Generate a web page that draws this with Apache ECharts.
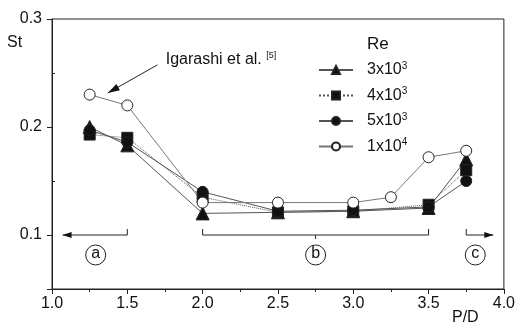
<!DOCTYPE html>
<html>
<head>
<meta charset="utf-8">
<script src="https://cdn.jsdelivr.net/npm/echarts@6/dist/echarts.min.js"></script>
<style>
  html, body { margin: 0; padding: 0; background: #fff; }
  #main { width: 518px; height: 322px; }
</style>
</head>
<body>
<div id="main"></div>
<script>
// P/D positions
const pd = [1.25, 1.5, 2.0, 2.5, 3.0, 3.5, 3.75];
const pdHigh = [1.25, 1.5, 2.0, 2.5, 3.0, 3.25, 3.5, 3.75];

// Strouhal numbers
const st3e3 = [0.200, 0.183, 0.120, 0.121, 0.122, 0.125, 0.170];
const st4e3 = [0.193, 0.190, 0.135, 0.121, 0.122, 0.128, 0.160];
const st5e3 = [0.197, 0.186, 0.140, 0.122, 0.123, 0.126, 0.150];
const st1e4 = [0.230, 0.220, 0.130, 0.130, 0.130, 0.135, 0.172, 0.178];

const seriesNames = ['3x10^3', '4x10^3', '5x10^3', '1x10^4'];
const reBase = ['3x10', '4x10', '5x10', '1x10'];
const reExp = ['3', '3', '3', '4'];

const yTicks = [0.05, 0.1, 0.2, 0.3];
const yLabels = [0.1, 0.2, 0.3];
const yMinorTicks = [0.15, 0.25];

const FONT = '"Liberation Sans", Arial, sans-serif';
const INK = '#111';
const LINE = '#555';

function pair(xs, ys) {
  return xs.map((x, i) => [x, ys[i]]);
}

const chart = echarts.init(document.getElementById('main'));

function lineSeries(name, data, symbol, size, type, lineColor, fill) {
  return {
    name: name,
    type: 'line',
    data: data,
    symbol: symbol,
    symbolSize: size,
    itemStyle: { color: fill || INK, borderColor: '#222', borderWidth: 1 },
    lineStyle: { color: lineColor, width: 1, type: type },
    animation: false
  };
}

chart.setOption({
  animation: false,
  textStyle: { fontFamily: FONT },
  grid: {
    left: 52, right: 12, top: 19, bottom: 33,
    show: true, borderColor: '#222', borderWidth: 1
  },
  xAxis: {
    type: 'value', min: 1, max: 4, interval: 0.5,
    axisLine: { lineStyle: { color: '#222', width: 1 } },
    axisTick: { length: 5, lineStyle: { color: '#222' } },
    minorTick: { show: true, splitNumber: 2, length: 3, lineStyle: { color: '#222' } },
    splitLine: { show: false },
    axisLabel: {
      color: INK, fontSize: 16, margin: 7,
      formatter: v => v.toFixed(1)
    }
  },
  yAxis: [{
    type: 'value', min: 0.05, max: 0.3, interval: 0.05,
    axisLine: { show: true, lineStyle: { color: '#222', width: 1 } },
    axisTick: { length: 5, customValues: yTicks, lineStyle: { color: '#222' } },
    splitLine: { show: false },
    axisLabel: {
      color: INK, fontSize: 16, margin: 10, customValues: yLabels,
      formatter: v => v.toFixed(1)
    }
  }, {
    type: 'value', min: 0.05, max: 0.3, interval: 0.05, position: 'left',
    axisLine: { show: false },
    axisTick: { show: true, inside: true, length: 3, customValues: yMinorTicks, lineStyle: { color: '#222' } },
    axisLabel: { show: false },
    splitLine: { show: false }
  }],
  legend: {
    orient: 'vertical', left: 313, top: 56,
    itemWidth: 34, itemHeight: 10, itemGap: 8.5,
    data: seriesNames,
    formatter: name => {
      const i = seriesNames.indexOf(name);
      return '{b|' + reBase[i] + '}{s|' + reExp[i] + '}';
    },
    textStyle: {
      color: INK,
      rich: {
        b: { fontSize: 16, color: INK, fontFamily: FONT, padding: [0, 0, 0, 9] },
        s: { fontSize: 10, color: INK, fontFamily: FONT, padding: [0, 0, 8, 0] }
      }
    }
  },
  series: [
    lineSeries(seriesNames[0], pair(pd, st3e3), 'triangle', 13, 'solid', LINE),
    lineSeries(seriesNames[1], pair(pd, st4e3), 'rect', 11, 'dotted', LINE),
    lineSeries(seriesNames[2], pair(pd, st5e3), 'circle', 11, 'solid', LINE),
    lineSeries(seriesNames[3], pair(pdHigh, st1e4), 'circle', 11, 'solid', '#777', '#fff')
  ]
});

// annotations, placed in data coordinates
function px(x, y) { return chart.convertToPixel({ gridIndex: 0 }, [x, y]); }

const ann = [];
const stroke = { stroke: '#222', lineWidth: 1 };

function seg(a, b) {
  ann.push({ type: 'line', shape: { x1: a[0], y1: a[1], x2: b[0], y2: b[1] }, style: stroke, silent: true });
}
function head(tip, from, len, half) {
  const dx = tip[0] - from[0], dy = tip[1] - from[1];
  const d = Math.sqrt(dx * dx + dy * dy);
  const ux = dx / d, uy = dy / d;
  const bx = tip[0] - ux * len, by = tip[1] - uy * len;
  ann.push({
    type: 'polygon', silent: true,
    shape: { points: [tip, [bx - uy * half, by + ux * half], [bx + uy * half, by - ux * half]] },
    style: { fill: '#111' }
  });
}
function tag(x, y, ch) {
  const p = px(x, y);
  ann.push({ type: 'circle', shape: { cx: p[0], cy: p[1], r: 10 }, style: { fill: 'none', stroke: '#222', lineWidth: 1 }, silent: true });
  ann.push({
    type: 'text', x: p[0], y: p[1] - 1, silent: true,
    style: { text: ch, fontSize: 16, fontFamily: FONT, fill: INK, align: 'center', verticalAlign: 'middle' }
  });
}

// (a)
const aL = px(1.07, 0.1), aR = px(1.5, 0.1);
seg(aL, aR);
seg(aR, [aR[0], aR[1] - 6]);
head(aL, aR, 9, 3);
tag(1.29, 0.0815, 'a');

// (b)
const bL = px(2.0, 0.1), bR = px(3.5, 0.1), bM = px(2.75, 0.1);
seg(bL, bR);
seg(bL, [bL[0], bL[1] - 6]);
seg(bR, [bR[0], bR[1] - 6]);
seg(bM, [bM[0], bM[1] + 4]);
tag(2.75, 0.0815, 'b');

// (c)
const cL = px(3.75, 0.1), cR = px(3.93, 0.1);
seg(cL, cR);
seg(cL, [cL[0], cL[1] - 6]);
head(cR, cL, 9, 3);
tag(3.81, 0.0815, 'c');

// Igarashi arrow
const arFrom = px(1.70, 0.2575), arTip = px(1.37, 0.2315);
seg(arFrom, arTip);
head(arTip, arFrom, 12, 3.5);

const txt = px(1.755, 0.262);
ann.push({
  type: 'text', x: txt[0], y: txt[1], silent: true,
  style: {
    text: '{m|Igarashi et al. }{s|[5]}',
    verticalAlign: 'middle',
    rich: {
      m: { fontSize: 16, fontFamily: FONT, fill: INK },
      s: { fontSize: 9, fontFamily: FONT, fill: INK, padding: [0, 0, 10, 0] }
    }
  }
});

// axis titles and legend heading
ann.push({ type: 'text', x: 7, y: 43, silent: true,
  style: { text: 'St', fontSize: 16, fontFamily: FONT, fill: INK, verticalAlign: 'middle' } });
ann.push({ type: 'text', x: 452, y: 318, silent: true,
  style: { text: 'P/D', fontSize: 16, fontFamily: FONT, fill: INK, verticalAlign: 'middle' } });
ann.push({ type: 'text', x: 367, y: 44, silent: true,
  style: { text: 'Re', fontSize: 17, fontFamily: FONT, fill: INK, verticalAlign: 'middle' } });

chart.setOption({ graphic: ann });
</script>
</body>
</html>
